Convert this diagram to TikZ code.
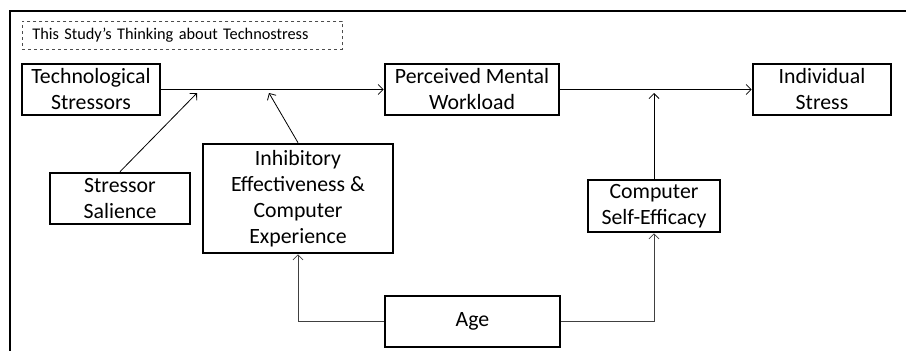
\documentclass[tikz,border=0pt]{standalone}
\usepackage{fontspec}
\setmainfont{Carlito}
\usetikzlibrary{arrows.meta}

\tikzset{
  box/.style={draw,line width=2.6pt,align=center,inner sep=0pt,
    font=\fontsize{21.8}{26}\selectfont},
  link/.style={line width=0.8pt,-{Straight Barb[length=5pt,width=10pt]}},
}

\begin{document}
\begin{tikzpicture}[x=1pt,y=-1pt]
\useasboundingbox (0,0) rectangle (906,351);
\draw [line width=2.4pt] (10,351) -- (10,11) -- (906,11);
\node [draw=black!70,dashed,line width=0.7pt,anchor=north west,inner xsep=10pt,
  text width=300pt,minimum height=28pt,align=left,
  font=\fontsize{16.3}{19}\selectfont] (title) at (22,21) {This Study’s Thinking about Technostress};

\node [box,minimum width=138pt,minimum height=51pt] (tech) at (91,89.5) {Technological\\Stressors};
\node [box,minimum width=174pt,minimum height=51pt] (load) at (472,89.5) {Perceived Mental\\Workload};
\node [box,minimum width=138pt,minimum height=51pt] (indiv) at (822,89.5) {Individual\\Stress};
\node [box,minimum width=140pt,minimum height=51pt] (salience) at (120,198.5) {Stressor\\Salience};
\node [box,minimum width=190pt,minimum height=109pt] (inhib) at (298,198.5) {Inhibitory\\Effectiveness \&\\Computer\\Experience};
\node [box,minimum width=132pt,minimum height=52pt] (efficacy) at (654,206) {Computer\\Self-Efficacy};
\node [box,minimum width=175pt,minimum height=51pt] (age) at (472.5,321.5) {Age};

\coordinate (m1) at (197,93);
\coordinate (m2) at (269,93);
\coordinate (m3) at (654,93);

\draw [link] (tech) -- (load);
\draw [link] (load) -- (indiv);
\draw [link] (salience.north) -- (m1);
\draw [link] (inhib.north) -- (m2);
\draw [link] (efficacy.north) -- (m3);
\draw [link,draw=black!75] (age.west) -| (inhib.south);
\draw [link,draw=black!75] (age.east) -| (efficacy.south);
\end{tikzpicture}
\end{document}
